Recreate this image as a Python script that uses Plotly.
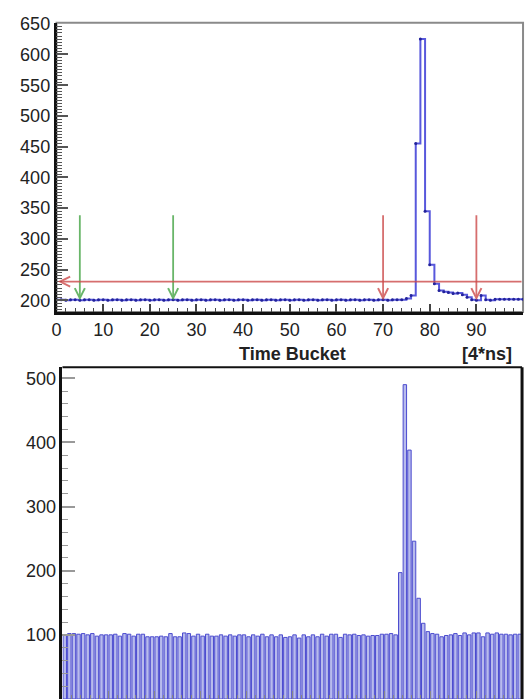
import plotly.graph_objects as go

# ---- upper panel: ADC waveform per time bucket ----
time_buckets = list(range(100))
adc_samples = [
    201, 201, 200, 201, 201, 200, 201, 201, 200, 201,
    201, 200, 201, 201, 200, 201, 201, 200, 201, 201,
    200, 201, 201, 200, 201, 201, 200, 201, 201, 200,
    201, 201, 200, 201, 201, 200, 201, 201, 200, 201,
    201, 200, 201, 201, 200, 201, 201, 200, 201, 201,
    200, 201, 201, 200, 201, 201, 200, 201, 201, 200,
    201, 201, 200, 201, 201, 200, 201, 201, 200, 201,
    201, 200, 201, 201, 201, 203, 208, 455, 625, 345,
    258, 227, 216, 214, 213, 211, 212, 209, 205, 201,
    200, 208, 201, 200, 202, 202, 202, 202, 202, 202,
]
# pedestal / signal windows (arrow positions) and threshold level
pedestal_marks = [5, 25]
signal_marks = [70, 90]
arrow_top = 341
arrow_tip = 200
threshold = 230.5

# ---- lower panel: histogram counts per bin ----
hist_bins = [i + 0.5 for i in range(100)]
hist_counts = [
    100, 102, 102, 101, 102, 100, 102, 98, 100, 100,
    100, 101, 98, 102, 101, 98, 101, 101, 97, 97,
    97, 98, 97, 102, 97, 97, 103, 102, 98, 101,
    98, 101, 98, 98, 100, 98, 100, 98, 100, 100,
    97, 100, 98, 101, 97, 100, 97, 100, 96, 97,
    100, 95, 100, 97, 100, 97, 101, 98, 101, 101,
    96, 101, 100, 101, 99, 100, 98, 99, 99, 101,
    101, 102, 100, 197, 490, 388, 246, 157, 118, 105,
    102, 101, 97, 99, 100, 102, 99, 103, 100, 103,
    103, 97, 103, 101, 103, 101, 101, 100, 101, 101,
]

FONT = "Liberation Sans, Arial, sans-serif"
W, H = 527, 699
TICK_FONT = 18

fig = go.Figure()

fig.add_trace(go.Scatter(
    x=time_buckets + [100],
    y=adc_samples + [adc_samples[-1]],
    mode="lines+markers",
    line=dict(color="#5858dc", width=2, shape="hv"),
    marker=dict(color="#23239a", size=3),
    xaxis="x", yaxis="y", showlegend=False, hoverinfo="x+y",
))

fig.add_trace(go.Bar(
    x=hist_bins, y=hist_counts,
    marker=dict(color="#b8bbec", line=dict(color="#4b4bcf", width=1)),
    xaxis="x2", yaxis="y2", showlegend=False,
))

top_dom = [1 - 307 / H, 1 - 14 / H]
bot_dom = [0, 1 - 363 / H]

fig.update_layout(
    width=W, height=H,
    margin=dict(l=0, r=0, t=0, b=0),
    paper_bgcolor="white", plot_bgcolor="white",
    font=dict(family=FONT, size=TICK_FONT, color="#222"),
    bargap=0.25,
    xaxis=dict(
        domain=[52 / W, 523 / W], anchor="y", range=[0, 100],
        tickmode="array", tickvals=list(range(0, 100, 10)),
        ticks="inside", ticklen=8, tickwidth=1.5, tickcolor="#444",
        minor=dict(tickmode="array", tickvals=[v for v in range(0, 100, 2) if v % 10],
                   ticks="inside", ticklen=4, tickwidth=1.2, tickcolor="#444"),
        showline=True, linecolor="#111", linewidth=2.5,
        showgrid=False, zeroline=False,
        tickfont=dict(size=TICK_FONT),
    ),
    yaxis=dict(
        domain=top_dom, anchor="x", range=[181, 651.5],
        tickmode="array", tickvals=list(range(200, 651, 50)),
        ticks="inside", ticklen=12, tickwidth=1.5, tickcolor="#555",
        minor=dict(tickmode="array", tickvals=[v for v in range(185, 651, 5) if v % 50],
                   ticks="inside", ticklen=6, tickwidth=1.2, tickcolor="#555"),
        showline=True, linecolor="#111", linewidth=2.5,
        showgrid=False, zeroline=False,
        tickfont=dict(size=TICK_FONT),
    ),
    xaxis2=dict(
        domain=[58 / W, 522 / W], anchor="y2", range=[0, 100],
        tickmode="array", tickvals=list(range(0, 101, 10)),
        ticks="inside", ticklen=8, tickwidth=1, tickcolor="#888",
        minor=dict(tickmode="array", tickvals=[v for v in range(0, 100, 2) if v % 10],
                   ticks="inside", ticklen=4, tickwidth=1, tickcolor="#888"),
        showticklabels=False, showline=False,
        showgrid=False, zeroline=False,
    ),
    yaxis2=dict(
        domain=bot_dom, anchor="x2", range=[0, 517],
        tickmode="array", tickvals=[100, 200, 300, 400, 500],
        ticks="inside", ticklen=13, tickwidth=1.5, tickcolor="#999",
        minor=dict(tickmode="array", tickvals=[v for v in range(20, 517, 20) if v % 100],
                   ticks="inside", ticklen=6, tickwidth=1.2, tickcolor="#999"),
        showline=True, linecolor="#111", linewidth=2.5,
        showgrid=False, zeroline=False,
        tickfont=dict(size=TICK_FONT),
    ),
)

# frames: grey box on the upper panel, black top/right edges on the lower one
fig.add_shape(type="rect", xref="x domain", yref="y domain", x0=0, x1=1, y0=0, y1=1,
              line=dict(color="#8a8a8a", width=2), layer="below")
fig.add_shape(type="line", xref="x2 domain", yref="y2 domain", x0=0, x1=1, y0=1, y1=1,
              line=dict(color="#111", width=2))
fig.add_shape(type="line", xref="x2 domain", yref="y2 domain", x0=1, x1=1, y0=0, y1=1,
              line=dict(color="#111", width=3))

green = "rgba(80,170,80,0.85)"
red = "rgba(205,75,75,0.8)"

for xv in pedestal_marks:
    fig.add_annotation(x=xv, y=arrow_tip, ax=xv, ay=arrow_top, xref="x", yref="y",
                       axref="x", ayref="y", text="", showarrow=True,
                       arrowhead=5, arrowsize=1.1, arrowwidth=1.8, arrowcolor=green)
for xv in signal_marks:
    fig.add_annotation(x=xv, y=arrow_tip, ax=xv, ay=arrow_top, xref="x", yref="y",
                       axref="x", ayref="y", text="", showarrow=True,
                       arrowhead=5, arrowsize=1.1, arrowwidth=1.8, arrowcolor=red)
fig.add_annotation(x=0.3, y=threshold, ax=100, ay=threshold, xref="x", yref="y",
                   axref="x", ayref="y", text="", showarrow=True,
                   arrowhead=5, arrowsize=1.1, arrowwidth=1.8, arrowcolor=red)

# axis title and unit label
fig.add_annotation(x=290 / W, y=1 - 349 / H, xref="paper", yref="paper",
                   text="<b>Time Bucket</b>", showarrow=False,
                   font=dict(size=18, color="#222"), xanchor="center", yanchor="middle")
fig.add_annotation(x=514 / W, y=1 - 349 / H, xref="paper", yref="paper",
                   text="<b>[4*ns]</b>", showarrow=False,
                   font=dict(size=18, color="#222"), xanchor="right", yanchor="middle")

fig.write_html("out.html")
